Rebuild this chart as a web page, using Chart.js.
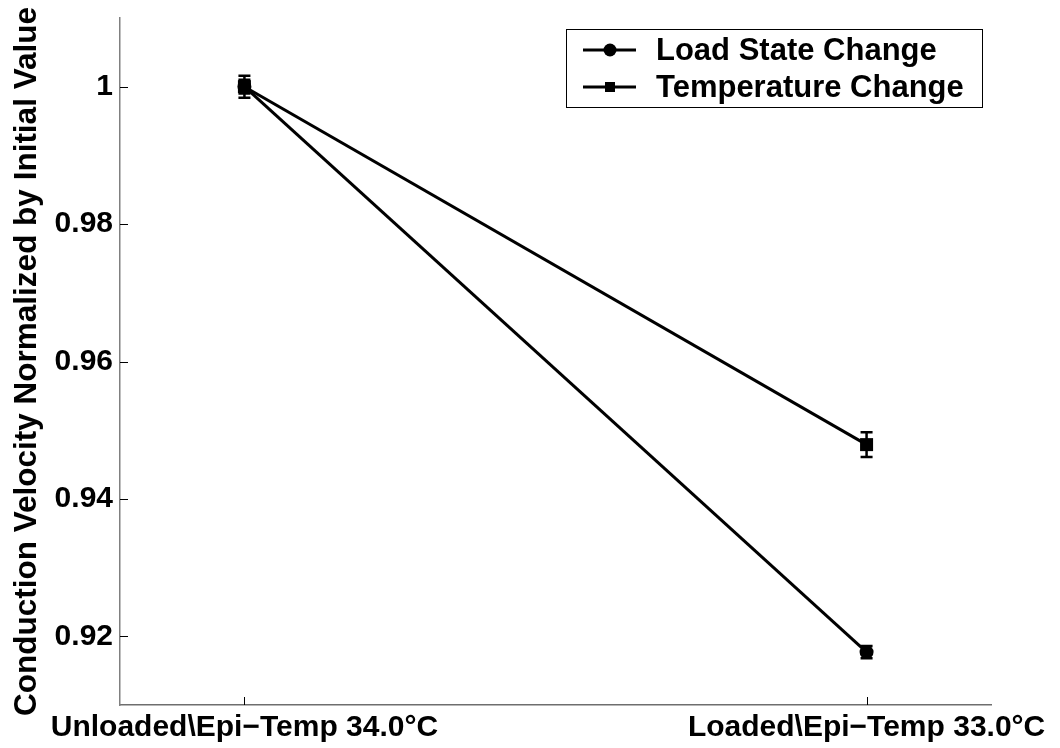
<!DOCTYPE html>
<html>
<head>
<meta charset="utf-8">
<script src="https://cdn.jsdelivr.net/npm/chart.js@4/dist/chart.umd.min.js"></script>
<style>
  html, body { margin: 0; padding: 0; background: #ffffff; }
  #wrap { width: 1060px; height: 748px; position: relative; }
</style>
</head>
<body>
<div id="wrap"><canvas id="cv"></canvas></div>
<script>
// Conditions on the x axis and their positions
const categories = ['Unloaded\\Epi\u2212Temp 34.0\u00B0C', 'Loaded\\Epi\u2212Temp 33.0\u00B0C'];
const xPositions = [1, 2];

// Normalized conduction velocity (mean) and error half-widths
const loadState = [1.0, 0.9177];
const loadStateErr = [0.0010, 0.0009];
const temperature = [1.0, 0.9479];
const temperatureErr = [0.0016, 0.0018];

const seriesNames = ['Load State Change', 'Temperature Change'];
const yTicks = [0.92, 0.94, 0.96, 0.98, 1.0];

const FONT = "'Liberation Sans', Arial, Helvetica, sans-serif";
const TICK_SIZE = 30;
const LEGEND_SIZE = 31;
const TITLE_SIZE = 31.5;

function toPoints(values) {
  return values.map((v, i) => ({ x: xPositions[i], y: v }));
}

// Vertical error bars with caps
const errorBars = {
  id: 'errorBars',
  afterDatasetsDraw(chart) {
    const ctx = chart.ctx;
    const xs = chart.scales.x, ys = chart.scales.y;
    const errs = [loadStateErr, temperatureErr];
    const vals = [loadState, temperature];
    ctx.save();
    ctx.strokeStyle = '#000';
    ctx.lineWidth = 2.5;
    errs.forEach((err, d) => {
      err.forEach((e, i) => {
        const px = xs.getPixelForValue(xPositions[i]);
        const top = ys.getPixelForValue(vals[d][i] + e);
        const bot = ys.getPixelForValue(vals[d][i] - e);
        ctx.beginPath();
        ctx.moveTo(px, top); ctx.lineTo(px, bot);
        ctx.moveTo(px - 6, top); ctx.lineTo(px + 6, top);
        ctx.moveTo(px - 6, bot); ctx.lineTo(px + 6, bot);
        ctx.stroke();
      });
    });
    ctx.restore();
  }
};

// Inward tick marks on both axes
const inwardTicks = {
  id: 'inwardTicks',
  afterDraw(chart) {
    const ctx = chart.ctx;
    const xs = chart.scales.x, ys = chart.scales.y;
    const a = chart.chartArea;
    ctx.save();
    ctx.strokeStyle = '#000';
    ctx.lineWidth = 1;
    ctx.beginPath();
    yTicks.forEach(v => {
      const py = Math.round(ys.getPixelForValue(v)) + 0.5;
      ctx.moveTo(a.left, py); ctx.lineTo(a.left + 8, py);
    });
    xPositions.forEach(v => {
      const px = Math.round(xs.getPixelForValue(v)) + 0.5;
      ctx.moveTo(px, a.bottom); ctx.lineTo(px, a.bottom - 8);
    });
    ctx.stroke();
    ctx.restore();
  }
};

// Boxed legend with line-and-marker samples
const boxLegend = {
  id: 'boxLegend',
  afterDraw(chart) {
    const ctx = chart.ctx;
    const box = { x: 566, y: 29, w: 416, h: 78 };
    const rows = [50, 87];
    ctx.save();
    ctx.fillStyle = '#fff';
    ctx.fillRect(box.x, box.y, box.w, box.h);
    ctx.strokeStyle = '#000';
    ctx.lineWidth = 1;
    ctx.strokeRect(box.x + 0.5, box.y + 0.5, box.w, box.h);
    seriesNames.forEach((name, i) => {
      const y = rows[i];
      ctx.strokeStyle = '#000';
      ctx.lineWidth = 3;
      ctx.beginPath();
      ctx.moveTo(583, y); ctx.lineTo(636, y);
      ctx.stroke();
      ctx.fillStyle = '#000';
      ctx.beginPath();
      if (i === 0) {
        ctx.arc(610, y, 6.5, 0, Math.PI * 2);
      } else {
        ctx.rect(605, y - 5, 10, 10);
      }
      ctx.fill();
      ctx.font = 'bold ' + LEGEND_SIZE + 'px ' + FONT;
      ctx.textBaseline = 'middle';
      ctx.textAlign = 'left';
      ctx.fillText(name, 656, y + 1);
    });
    ctx.restore();
  }
};

const chart = new Chart(document.getElementById('cv'), {
  type: 'line',
  data: {
    datasets: [
      {
        label: seriesNames[0],
        data: toPoints(loadState),
        borderColor: '#000',
        backgroundColor: '#000',
        borderWidth: 3,
        pointStyle: 'circle',
        pointRadius: 7,
        pointBorderWidth: 0,
        pointHoverRadius: 7
      },
      {
        label: seriesNames[1],
        data: toPoints(temperature),
        borderColor: '#000',
        backgroundColor: '#000',
        borderWidth: 3,
        pointStyle: 'rect',
        pointRadius: 9.2,
        pointBorderWidth: 0,
        pointHoverRadius: 9.2
      }
    ]
  },
  options: {
    responsive: true,
    maintainAspectRatio: false,
    animation: false,
    events: [],
    layout: { padding: { top: 18, right: 69, left: 0, bottom: 0 } },
    plugins: {
      legend: { display: false },
      tooltip: { enabled: false }
    },
    scales: {
      x: {
        type: 'linear',
        min: 0.8,
        max: 2.2,
        afterBuildTicks(scale) {
          scale.ticks = xPositions.map(v => ({ value: v }));
        },
        afterFit(scale) {
          scale.height = 43;
          scale.paddingLeft = 0;
          scale.paddingRight = 0;
        },
        grid: { display: false, drawTicks: false },
        border: { display: true, color: '#6e6e6e', width: 1.5 },
        ticks: {
          color: '#000',
          padding: 5,
          maxRotation: 0,
          autoSkip: false,
          font: { family: FONT, size: TICK_SIZE, weight: 'bold', lineHeight: 1.2 },
          callback(value) {
            const i = xPositions.indexOf(value);
            return i >= 0 ? categories[i] : '';
          }
        }
      },
      y: {
        type: 'linear',
        min: 0.91,
        max: 1.01,
        afterBuildTicks(scale) {
          scale.ticks = yTicks.map(v => ({ value: v }));
        },
        afterFit(scale) {
          scale.width = 120;
          scale.paddingTop = 0;
          scale.paddingBottom = 0;
        },
        grid: { display: false, drawTicks: false },
        border: { display: true, color: '#808080', width: 1.5 },
        ticks: {
          color: '#000',
          padding: 7,
          font: { family: FONT, size: TICK_SIZE, weight: 'bold' },
          callback(value) {
            return Math.abs(value - 1) < 1e-9 ? '1' : value.toFixed(2);
          }
        },
        title: {
          display: true,
          text: 'Conduction Velocity Normalized by Initial Value',
          color: '#000',
          padding: { top: 8, bottom: 0 },
          font: { family: FONT, size: TITLE_SIZE, weight: 'bold', lineHeight: 1.2 }
        }
      }
    }
  },
  plugins: [errorBars, inwardTicks, boxLegend]
});
</script>
</body>
</html>
